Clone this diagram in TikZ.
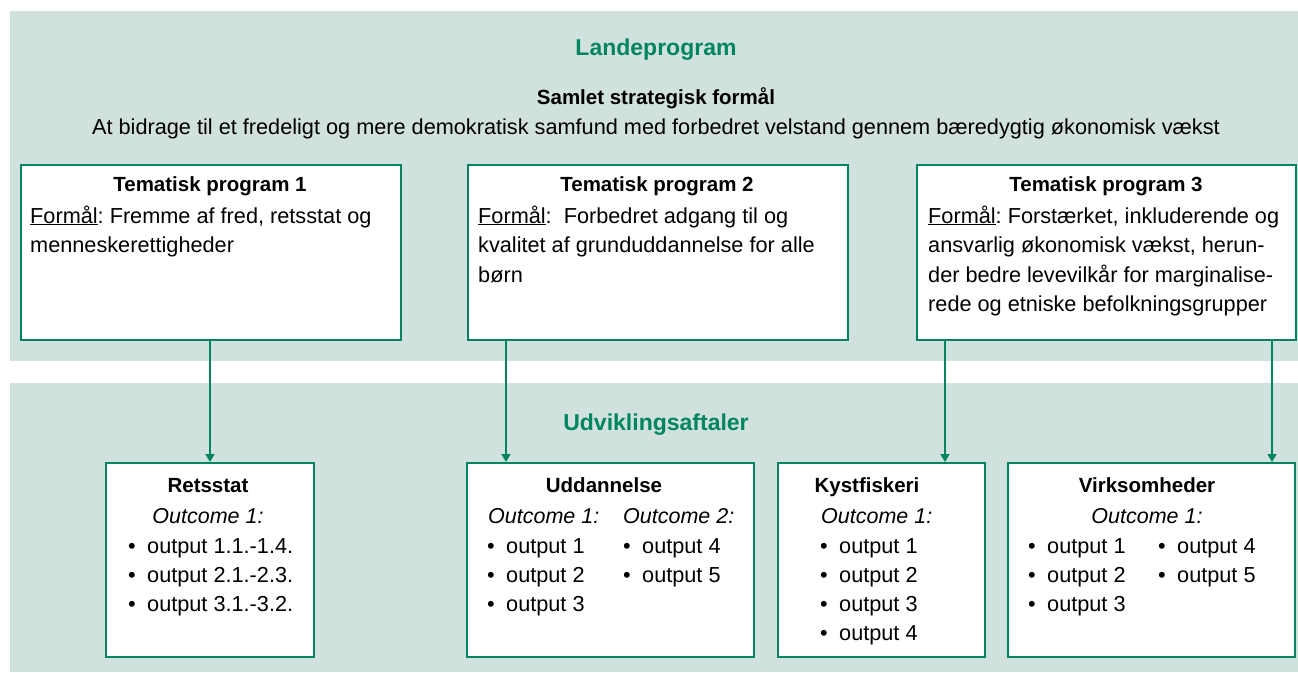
\documentclass[tikz,border=0pt]{standalone}
\usepackage{fontspec}
\setmainfont{Liberation Sans}
\usetikzlibrary{arrows.meta}
\definecolor{dgreen}{RGB}{0,133,96}
\definecolor{band}{RGB}{209,225,221}
\newcommand{\outitem}[1]{\makebox[19pt][l]{\textbullet}#1}

\begin{document}
\begin{tikzpicture}[x=1pt,y=-1pt,
  box/.style={draw=dgreen, line width=2pt, fill=white, anchor=north west, inner sep=0pt},
  head/.style={font=\fontsize{23}{28}\selectfont\bfseries, text=dgreen, anchor=base, inner sep=0pt},
  title/.style={font=\fontsize{20.5}{28}\selectfont\bfseries, anchor=base, inner sep=0pt},
  txt/.style={font=\fontsize{21.7}{28}\selectfont, anchor=base west, inner sep=0pt},
  ctxt/.style={font=\fontsize{21.7}{28}\selectfont, anchor=base, inner sep=0pt},
  outc/.style={font=\fontsize{21.5}{28}\selectfont\itshape, anchor=base west, inner sep=0pt},
  arr/.style={draw=dgreen, line width=1.8pt, -{Triangle[length=8pt,width=9pt]}}]

\useasboundingbox (0,0) rectangle (1298,672);
\fill[band] (10,11) rectangle (1298,361);
\fill[band] (10,383) rectangle (1298,672);

% landeprogram
\node[head] (lp) at (656,55) {Landeprogram};
\node[title] (sf) at (656,104) {Samlet strategisk formål};
\node[ctxt] (sft) at (656,134) {At bidrage til et fredeligt og mere demokratisk samfund med forbedret velstand gennem bæredygtig økonomisk vækst};

\node[box, minimum width=380pt, minimum height=175pt] (tp1) at (20,164){};
\node[box, minimum width=380pt, minimum height=175pt] (tp2) at (467,164){};
\node[box, minimum width=379pt, minimum height=175pt] (tp3) at (916,164){};

\node[title] (tp1h) at (210,191) {Tematisk program 1};
\node[txt] (tp1a) at (30,223) {\underline{Formål}:~Fremme af fred, retsstat og};
\node[txt] (tp1b) at (30,252) {menneskerettigheder};

\node[title] (tp2h) at (657,191) {Tematisk program 2};
\node[txt] (tp2a) at (478,223) {\underline{Formål}:\ \ Forbedret adgang til og};
\node[txt] (tp2b) at (478,252) {kvalitet af grunduddannelse for alle};
\node[txt] (tp2c) at (478,282) {børn};

\node[title] (tp3h) at (1106,191) {Tematisk program 3};
\node[txt] (tp3a) at (928,223) {\underline{Formål}:~Forstærket, inkluderende og};
\node[txt] (tp3b) at (928,252) {ansvarlig økonomisk vækst, herun-};
\node[txt] (tp3c) at (928,282) {der bedre levevilkår for marginalise-};
\node[txt] (tp3d) at (928,311) {rede og etniske befolkningsgrupper};

% udviklingsaftaler
\node[head] (ua) at (656,430) {Udviklingsaftaler};

\node[box, minimum width=208pt, minimum height=194pt] (rs) at (105,462){};
\node[box, minimum width=287pt, minimum height=194pt] (ud) at (466,462){};
\node[box, minimum width=207pt, minimum height=194pt] (ky) at (777,462){};
\node[box, minimum width=287pt, minimum height=194pt] (vi) at (1007,462){};

\node[title] (rsh) at (208,492) {Retsstat};
\node[ctxt, font=\fontsize{21.5}{28}\selectfont\itshape] (rso) at (208,523) {Outcome 1:};
\node[txt] (rs1) at (128,553) {\outitem{output 1.1.-1.4.}};
\node[txt] (rs2) at (128,582) {\outitem{output 2.1.-2.3.}};
\node[txt] (rs3) at (128,611) {\outitem{output 3.1.-3.2.}};

\node[title] (udh) at (604,492) {Uddannelse};
\node[outc] (udo1) at (488,523) {Outcome 1:};
\node[outc] (udo2) at (623,523) {Outcome 2:};
\node[txt] (ud1) at (487,553) {\outitem{output 1}};
\node[txt] (ud2) at (487,582) {\outitem{output 2}};
\node[txt] (ud3) at (487,611) {\outitem{output 3}};
\node[txt] (ud4) at (623,553) {\outitem{output 4}};
\node[txt] (ud5) at (623,582) {\outitem{output 5}};

\node[title] (kyh) at (867,492) {Kystfiskeri};
\node[outc] (kyo) at (821,523) {Outcome 1:};
\node[txt] (ky1) at (820,553) {\outitem{output 1}};
\node[txt] (ky2) at (820,582) {\outitem{output 2}};
\node[txt] (ky3) at (820,611) {\outitem{output 3}};
\node[txt] (ky4) at (820,640) {\outitem{output 4}};

\node[title] (vih) at (1147,492) {Virksomheder};
\node[ctxt, font=\fontsize{21.5}{28}\selectfont\itshape] (vio) at (1147,523) {Outcome 1:};
\node[txt] (vi1) at (1028,553) {\outitem{output 1}};
\node[txt] (vi2) at (1028,582) {\outitem{output 2}};
\node[txt] (vi3) at (1028,611) {\outitem{output 3}};
\node[txt] (vi4) at (1158,553) {\outitem{output 4}};
\node[txt] (vi5) at (1158,582) {\outitem{output 5}};

\draw[arr] (tp1.south -| rs.north) -- (rs.north);
\draw[arr] ([xshift=39pt]tp2.south west) -- ([xshift=39pt]tp2.south west |- ud.north);
\draw[arr] ([xshift=29pt]tp3.south west) -- ([xshift=29pt]tp3.south west |- ky.north);
\draw[arr] ([xshift=-25pt]tp3.south east) -- ([xshift=-25pt]tp3.south east |- vi.north);

\end{tikzpicture}
\end{document}
